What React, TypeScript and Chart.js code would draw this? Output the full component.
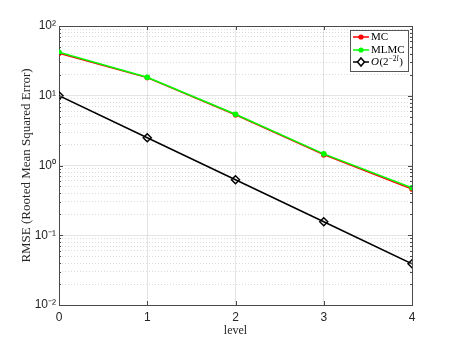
import React, { useEffect, useRef } from "react";
import { Chart, registerables } from "chart.js";

Chart.register(...registerables);

const levels = [0, 1, 2, 3, 4];
const mcValues = [40.8, 18.2, 5.35, 1.43, 0.46];
const mlmcValues = [42.0, 18.4, 5.42, 1.47, 0.48];
const refValues = [10, 2.5, 0.625, 0.156, 0.039];
const majorYTicks = [0.01, 0.1, 1, 10, 100];
const yTickLabels = ["10\u207B\u00B2", "10\u207B\u00B9", "10\u2070", "10\u00B9", "10\u00B2"];
const xTickLabels = ["0", "1", "2", "3", "4"];
const seriesNames = ["MC", "MLMC", "O"];

const AXIS_COLOR = "#4a4a4a";
const TEXT_COLOR = "#262626";

function minorTicks(): number[] {
  const out: number[] = [];
  for (let e = -2; e < 2; e++) {
    for (let m = 2; m <= 9; m++) out.push(+(m * Math.pow(10, e)).toPrecision(3));
  }
  return out;
}

const boxPlugin = {
  id: "boxAndLegend",
  afterDraw(chart: any) {
    const { ctx, chartArea } = chart;
    const { left, right, top, bottom } = chartArea;
    ctx.save();
    const ys = chart.scales.y;
    const xs = chart.scales.x;
    ctx.strokeStyle = AXIS_COLOR;
    ctx.lineWidth = 1;
    ctx.beginPath();
    majorYTicks.forEach((v) => {
      const py = Math.round(ys.getPixelForValue(v)) + 0.5;
      ctx.moveTo(left, py); ctx.lineTo(left + 4, py);
      ctx.moveTo(right, py); ctx.lineTo(right - 4, py);
    });
    minorTicks().forEach((v) => {
      const py = Math.round(ys.getPixelForValue(v)) + 0.5;
      ctx.moveTo(left, py); ctx.lineTo(left + 2, py);
      ctx.moveTo(right, py); ctx.lineTo(right - 2, py);
    });
    levels.forEach((v) => {
      const px = Math.round(xs.getPixelForValue(v)) + 0.5;
      ctx.moveTo(px, bottom); ctx.lineTo(px, bottom - 4);
      ctx.moveTo(px, top); ctx.lineTo(px, top + 4);
    });
    ctx.stroke();
    ctx.beginPath();
    ctx.moveTo(Math.round(left) + 0.5, Math.round(top) + 0.5);
    ctx.lineTo(Math.round(right) + 0.5, Math.round(top) + 0.5);
    ctx.lineTo(Math.round(right) + 0.5, Math.round(bottom) + 0.5);
    ctx.stroke();

    // legend
    const bx = 350.5, by = 30.5, bw = 58, bh = 41;
    ctx.fillStyle = "#ffffff";
    ctx.fillRect(bx, by, bw, bh);
    ctx.strokeStyle = "#555555";
    ctx.strokeRect(bx, by, bw, bh);
    const rows = [37, 50, 62];
    const colors = ["#ff0000", "#00ff00", "#000000"];
    rows.forEach((ry, i) => {
      ctx.strokeStyle = colors[i];
      ctx.lineWidth = 1.5;
      ctx.beginPath();
      ctx.moveTo(353, ry);
      ctx.lineTo(369, ry);
      ctx.stroke();
      if (i < 2) {
        ctx.fillStyle = colors[i];
        ctx.beginPath();
        ctx.arc(361, ry, 2.6, 0, Math.PI * 2);
        ctx.fill();
      } else {
        ctx.beginPath();
        ctx.moveTo(361, ry - 4);
        ctx.lineTo(364.5, ry);
        ctx.lineTo(361, ry + 4);
        ctx.lineTo(357.5, ry);
        ctx.closePath();
        ctx.fillStyle = "#ffffff";
        ctx.fill();
        ctx.stroke();
      }
      ctx.fillStyle = "#000000";
      ctx.textBaseline = "middle";
      ctx.textAlign = "left";
      if (i < 2) {
        ctx.font = "11px 'Liberation Serif'";
        ctx.fillText(seriesNames[i], 371, ry + 0.5);
      } else {
        ctx.font = "italic 11px 'Liberation Serif'";
        ctx.fillText(seriesNames[i], 371, ry + 0.5);
        let x = 371 + ctx.measureText(seriesNames[i]).width + 0.5;
        ctx.font = "11px 'Liberation Serif'";
        ctx.fillText("(2", x, ry + 0.5);
        x += ctx.measureText("(2").width;
        ctx.font = "7.5px 'Liberation Serif'";
        ctx.fillText("\u22122", x, ry - 3);
        x += ctx.measureText("\u22122").width;
        ctx.font = "italic 7.5px 'Liberation Serif'";
        ctx.fillText("l", x, ry - 3);
        x += ctx.measureText("l").width + 0.5;
        ctx.font = "11px 'Liberation Serif'";
        ctx.fillText(")", x, ry + 0.5);
      }
    });
    ctx.restore();
  },
};

export default function App() {
  const canvasRef = useRef<HTMLCanvasElement | null>(null);

  useEffect(() => {
    if (!canvasRef.current) return;
    const toPts = (vals: number[]) => levels.map((l, i) => ({ x: l, y: vals[i] }));
    const chart = new Chart(canvasRef.current, {
      type: "line",
      data: {
        datasets: [
          {
            label: "MC",
            data: toPts(mcValues),
            borderColor: "#ff0000",
            backgroundColor: "#ff0000",
            borderWidth: 1.5,
            pointRadius: 2.8,
            pointBorderWidth: 0,
            pointStyle: "circle",
            order: 3,
          },
          {
            label: "MLMC",
            data: toPts(mlmcValues),
            borderColor: "#00ff00",
            backgroundColor: "#00ff00",
            borderWidth: 1.5,
            pointRadius: 2.8,
            pointBorderWidth: 0,
            pointStyle: "circle",
            order: 2,
          },
          {
            label: "O(2^{-2l})",
            data: toPts(refValues),
            borderColor: "#000000",
            backgroundColor: "rgba(255,255,255,0)",
            borderWidth: 1.5,
            pointRadius: 4,
            pointBorderWidth: 1.5,
            pointStyle: "rectRot",
            order: 1,
          },
        ],
      },
      options: {
        responsive: false,
        animation: false,
        layout: { padding: { top: 26, right: 45, left: 0, bottom: 0 } },
        plugins: { legend: { display: false }, tooltip: { enabled: false } },
        scales: {
          x: {
            type: "linear",
            min: 0,
            max: 4,
            afterBuildTicks: (scale: any) => {
              scale.ticks = levels.map((v) => ({ value: v }));
            },
            afterFit: (scale: any) => {
              scale.height = 38;
            },
            ticks: {
              callback: (v: any) => xTickLabels[levels.indexOf(Number(v))] ?? "",
              font: { family: "'Liberation Sans'", size: 12 },
              color: TEXT_COLOR,
              padding: 5,
              maxRotation: 0,
            },
            grid: { color: "rgba(38,38,38,0.12)", lineWidth: 1, drawTicks: false },
            border: { color: AXIS_COLOR, width: 1 },
            title: {
              display: true,
              text: "level",
              font: { family: "'Liberation Serif'", size: 12 },
              color: TEXT_COLOR,
              padding: { top: 0, bottom: 5 },
            },
          },
          y: {
            type: "logarithmic",
            position: "left",
            min: 0.01,
            max: 100,
            afterBuildTicks: (scale: any) => {
              scale.ticks = majorYTicks.map((v) => ({ value: v, major: true }));
            },
            afterFit: (scale: any) => {
              scale.width = 59;
            },
            ticks: {
              callback: (v: any) => {
                const idx = majorYTicks.findIndex((m) => Math.abs(m - Number(v)) < m * 1e-6);
                return idx >= 0 ? yTickLabels[idx] : "";
              },
              font: { family: "'Liberation Sans'", size: 12 },
              color: TEXT_COLOR,
              padding: 3,
            },
            grid: { color: "rgba(38,38,38,0.12)", lineWidth: 1, drawTicks: false },
            border: { color: AXIS_COLOR, width: 1 },
            title: {
              display: true,
              text: "RMSE (Rooted Mean Squared Error)",
              font: { family: "'Liberation Serif'", size: 13 },
              color: TEXT_COLOR,
              padding: { top: 19, bottom: 0 },
            },
          },
          yMinor: {
            type: "logarithmic",
            position: "left",
            min: 0.01,
            max: 100,
            afterBuildTicks: (scale: any) => {
              scale.ticks = minorTicks().map((v) => ({ value: v }));
            },
            afterFit: (scale: any) => {
              scale.width = 0;
            },
            ticks: { display: false },
            grid: { color: "rgba(38,38,38,0.16)", lineWidth: 1, drawTicks: false },
            border: { display: false, dash: [1, 2] },
          },
        },
      },
      plugins: [boxPlugin],
    } as any);
    return () => chart.destroy();
  }, []);

  return (
    <div style={{ position: "absolute", left: 0, top: 0, width: 457, height: 343, background: "#fff" }}>
      <canvas ref={canvasRef} width={457} height={343} style={{ display: "block" }} />
    </div>
  );
}
